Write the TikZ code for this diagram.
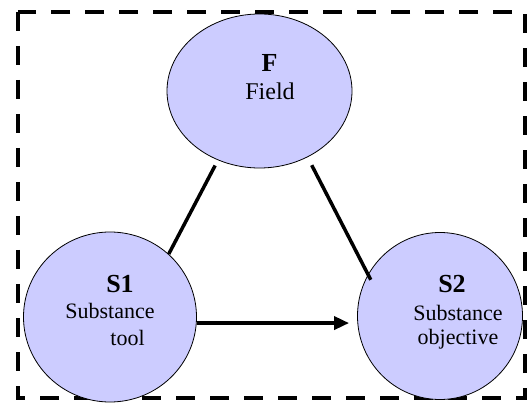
\documentclass[tikz,border=0pt]{standalone}
\usepackage{fontspec}
\setmainfont{Liberation Serif}
\usetikzlibrary{shapes.geometric, arrows.meta}
\begin{document}
\begin{tikzpicture}[x = 1pt, y = -1pt,
        blob/.style = {ellipse, draw, fill = blue!20, line width = 0.8pt, inner sep = 0pt},
        tagtext/.style = {anchor = base, font = \fontsize{26}{26}\selectfont\bfseries},
        desctext/.style = {anchor = base, font = \fontsize{22}{26}\selectfont},
        link/.style = {line width = 3.5pt}
    ]
        \useasboundingbox (0, 0) rectangle (530, 403);
        \draw [line width = 4pt, dash pattern = on 19pt off 15pt] (18, 12) rectangle (525, 398);

        \node [blob, minimum width = 185, minimum height = 154] (F) at (259.5, 91) {};
        \node [blob, minimum width = 173, minimum height = 170] (S1) at (110, 317) {};
        \node [blob, minimum width = 165, minimum height = 167] (S2) at (440, 316) {};

        \node [tagtext] (ftag) at (269.5, 72) {F};
        \node [desctext, font = \fontsize{24}{26}\selectfont] (fdesc) at (270, 100) {Field};
        \node [tagtext] (sonetag) at (120, 293) {S1};
        \node [desctext] (sonedesc) at (110, 319) {Substance};
        \node [desctext] (sonetool) at (127.5, 345) {tool};
        \node [tagtext] (stwotag) at (452, 293) {S2};
        \node [desctext] (stwodesc) at (458, 320) {Substance};
        \node [desctext] (stwoobj) at (458, 344) {objective};

        \draw [link, shorten <= 6pt] (F.239) -- (S1.47);
        \draw [link, shorten <= 9pt, shorten >= -6pt] (F.306) -- (S2.150);
        \draw [link, -{Triangle[length = 15pt, width = 13pt]}, shorten >= 8pt] (S1.-4) -- (S1.-4 -| S2.west);
    \end{tikzpicture}
\end{document}
